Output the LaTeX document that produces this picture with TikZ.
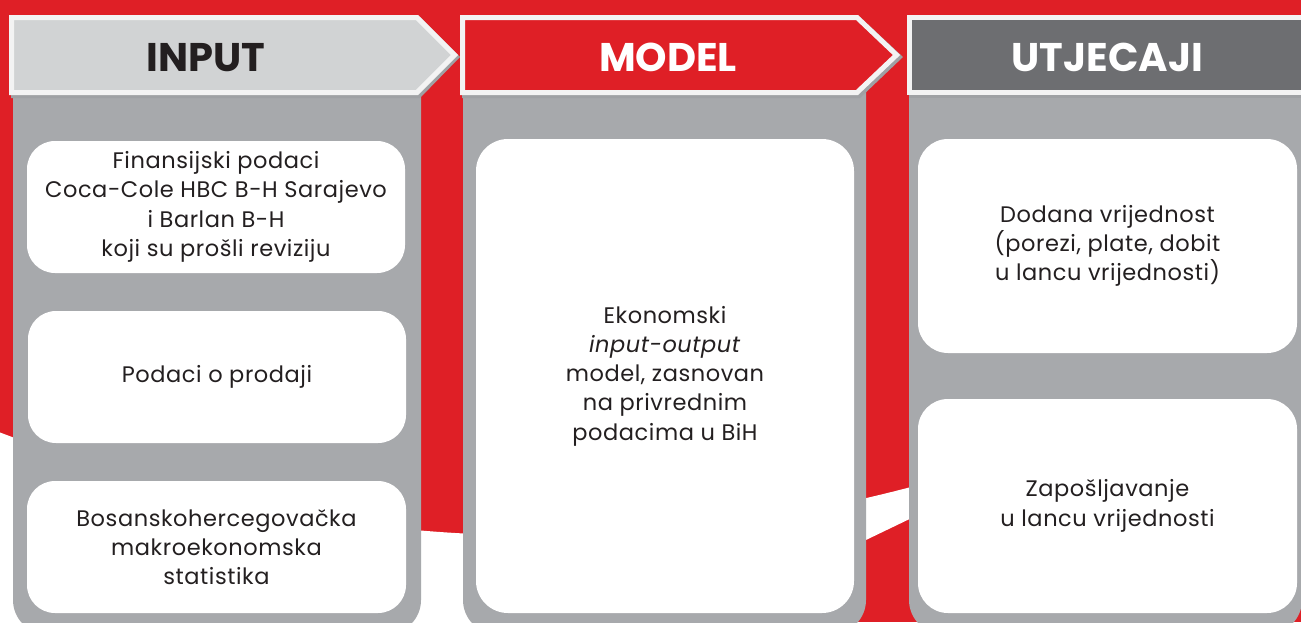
\documentclass[tikz,border=0pt]{standalone}
\usepackage{fontspec}
\setmainfont{Poppins}
\newfontfamily\boxfont[LetterSpace=2.5]{Poppins}
\definecolor{cred}{HTML}{DF1F26}
\definecolor{panelgray}{HTML}{A7A9AC}
\definecolor{lightgray}{HTML}{D1D3D4}
\definecolor{darkgray}{HTML}{6D6E71}
\definecolor{offwhite}{HTML}{F3F3F3}
\definecolor{shadowgray}{HTML}{9FA1A4}
\definecolor{ink}{HTML}{231F20}
\begin{document}
\begin{tikzpicture}[x=1pt,y=-1pt,
  panel/.style={fill=panelgray},
  hdshape/.style={draw=offwhite, line width=5pt, line join=miter},
  hdshadow/.style={fill=shadowgray},
  box/.style={fill=white, inner sep=0pt, align=center, text=ink,
    font=\boxfont\fontsize{22.5}{29.3}\selectfont},
  hd/.style={anchor=base, inner sep=0pt, font=\fontsize{40}{40}\selectfont\bfseries}
]
\useasboundingbox (0,0) rectangle (1301,622);
\clip (0,0) rectangle (1301,622);
% background
\fill[cred] (0,0) rectangle (1301,622);
\fill[white] (-2,431.7) .. controls (433.7,598.2) and (867.3,564.6) .. (1301,330.6) -- (600,668) -- (-2,668) -- cycle;
% panels
\fill[panel] (13,60) {[rounded corners=34pt] -- (13,634) -- (421,634)} -- (421,60) -- cycle;
\fill[panel] (463,60) {[rounded corners=34pt] -- (463,634) -- (866,634)} -- (866,60) -- cycle;
\fill[panel] (909,60) {[rounded corners=34pt] -- (909,634) -- (1302,634)} -- (1302,60) -- cycle;
% header shadows
\fill[hdshadow] (11,17) -- (420,17) -- (460,57) -- (420,98) -- (11,98) -- cycle;
\fill[hdshadow] (462,17) -- (860,17) -- (903,57) -- (860,98) -- (462,98) -- cycle;
\fill[hdshadow] (909,17) rectangle (1310,98);
% headers
\draw[hdshape, fill=lightgray] (11.5,17.5) -- (417,17.5) -- (454.5,55) -- (417,92.5) -- (11.5,92.5) -- cycle;
\draw[hdshape, fill=cred] (462.5,17.5) -- (857,17.5) -- (896.5,55) -- (857,92.5) -- (462.5,92.5) -- cycle;
\draw[hdshape, fill=darkgray] (909.5,17.5) -- (1310,17.5) -- (1310,92.5) -- (909.5,92.5) -- cycle;
\node[hd, text=ink] (hinput) at (206,71) {INPUT};
\node[hd, text=white] (hmodel) at (668,71) {MODEL};
\node[hd, text=white] (hutj) at (1107.5,71) {UTJECAJI};
% boxes
\node[box, rounded corners=28pt, minimum width=378pt, minimum height=132pt] (in1) at (216,207)
  {Finansijski podaci\\Coca-Cole HBC B-H Sarajevo\\i Barlan B-H\\koji su prošli reviziju};
\node[box, rounded corners=28pt, minimum width=378pt, minimum height=132pt] (in2) at (217,377)
  {Podaci o prodaji};
\node[box, rounded corners=28pt, minimum width=379pt, minimum height=132pt] (in3) at (216.5,547)
  {Bosanskohercegovačka\\makroekonomska\\statistika};
\node[box, rounded corners=32pt, minimum width=378pt, minimum height=474pt] (mod) at (665,376)
  {Ekonomski\\\textit{input-output}\\model, zasnovan\\na privrednim\\podacima u BiH};
\node[box, rounded corners=30pt, minimum width=379pt, minimum height=214pt] (ut1) at (1107.5,246)
  {Dodana vrijednost\\(porezi, plate, dobit\\u lancu vrijednosti)};
\node[box, rounded corners=30pt, minimum width=379pt, minimum height=214pt] (ut2) at (1107.5,506)
  {Zapošljavanje\\u lancu vrijednosti};
\end{tikzpicture}
\end{document}
